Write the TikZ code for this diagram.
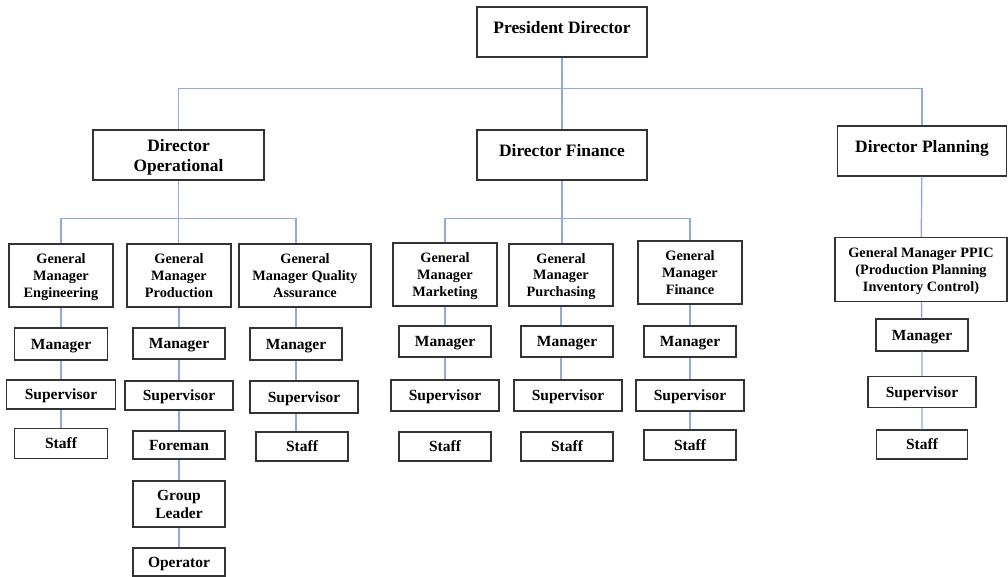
\documentclass[tikz,border=0pt]{standalone}
\usepackage{fontspec}
\setmainfont{Liberation Serif}
\definecolor{linkblue}{RGB}{143,170,220}
\tikzset{
  unit/.style={draw=black!80, line width=1.1pt, fill=white, inner sep=0pt, align=center,
    text depth=0pt, font=\bfseries\fontsize{15.5}{18}\selectfont},
  head/.style={unit, font=\bfseries\fontsize{17.4}{20}\selectfont},
  lifted/.style={text depth=10pt},
  gm/.style={unit, font=\bfseries\fontsize{14.3}{16.7}\selectfont},
  link/.style={draw=linkblue, line width=1.4pt},
}
\begin{document}
\begin{tikzpicture}[x=1pt,y=-1pt]
  \useasboundingbox (0,0) rectangle (1008,577);
  \node[head,lifted,minimum width=170pt,minimum height=50pt] (pres) at (562,32) {President Director};
  \node[head,minimum width=171pt,minimum height=50pt] (dop) at (178.5,155) {Director\\Operational};
  \node[head,lifted,minimum width=170pt,minimum height=50pt] (dfin) at (562,155) {Director Finance};
  \node[head,lifted,minimum width=169pt,minimum height=50pt] (dpla) at (922,151) {Director Planning};

  \node[gm,minimum width=104pt,minimum height=63pt] (gmeng) at (61,275.5) {General\\Manager\\Engineering};
  \node[gm,minimum width=104pt,minimum height=63pt] (gmprod) at (179,275.5) {General\\Manager\\Production};
  \node[gm,minimum width=132pt,minimum height=63pt] (gmqa) at (305,275.5) {General\\Manager Quality\\Assurance};
  \node[gm,minimum width=104pt,minimum height=63pt] (gmmkt) at (445,274.5) {General\\Manager\\Marketing};
  \node[gm,minimum width=104pt,minimum height=62pt] (gmpur) at (561,275) {General\\Manager\\Purchasing};
  \node[gm,minimum width=104pt,minimum height=63pt] (gmfin) at (690,272.5) {General\\Manager\\Finance};
  \node[gm,minimum width=172pt,minimum height=64pt] (gmppic) at (921,269.5) {General Manager PPIC\\(Production Planning\\Inventory Control)};

  \node[unit,minimum width=93pt,minimum height=32pt] (engmgr) at (61,344) {Manager};
  \node[unit,minimum width=109pt,minimum height=29pt] (engsup) at (61,394.5) {Supervisor};
  \node[unit,minimum width=93pt,minimum height=30pt] (engstaff) at (61,443.5) {Staff};

  \node[unit,minimum width=92pt,minimum height=31pt] (prodmgr) at (179,343.5) {Manager};
  \node[unit,minimum width=108pt,minimum height=29pt] (prodsup) at (179,395.5) {Supervisor};
  \node[unit,minimum width=92pt,minimum height=28pt] (foreman) at (179,445) {Foreman};
  \node[unit,minimum width=92pt,minimum height=46pt] (group) at (179,504) {Group\\Leader};
  \node[unit,minimum width=92pt,minimum height=28pt] (operator) at (179,562) {Operator};

  \node[unit,minimum width=92pt,minimum height=32pt] (qamgr) at (296,344) {Manager};
  \node[unit,minimum width=108pt,minimum height=32pt] (qasup) at (304,397) {Supervisor};
  \node[unit,minimum width=92pt,minimum height=29pt] (qastaff) at (302,446.5) {Staff};

  \node[unit,minimum width=92pt,minimum height=31pt] (mktmgr) at (445,341.5) {Manager};
  \node[unit,minimum width=108pt,minimum height=31pt] (mktsup) at (445,395.5) {Supervisor};
  \node[unit,minimum width=92pt,minimum height=29pt] (mktstaff) at (445,446.5) {Staff};

  \node[unit,minimum width=92pt,minimum height=31pt] (purmgr) at (567,341.5) {Manager};
  \node[unit,minimum width=108pt,minimum height=31pt] (pursup) at (568,395.5) {Supervisor};
  \node[unit,minimum width=92pt,minimum height=29pt] (purstaff) at (567,446.5) {Staff};

  \node[unit,minimum width=92pt,minimum height=31pt] (finmgr) at (690,341.5) {Manager};
  \node[unit,minimum width=108pt,minimum height=31pt] (finsup) at (690,395.5) {Supervisor};
  \node[unit,minimum width=92pt,minimum height=30pt] (finstaff) at (690,445) {Staff};

  \node[unit,minimum width=92pt,minimum height=32pt] (plamgr) at (922,335) {Manager};
  \node[unit,minimum width=108pt,minimum height=31pt] (plasup) at (922,392) {Supervisor};
  \node[unit,minimum width=91pt,minimum height=29pt] (plastaff) at (922,444.5) {Staff};

  \draw[link] (pres) -- (dfin);
  \draw[link] (dop.north) -- ++(0,-41) -| (dpla.north);

  \draw[link] (dop.south) -- (dop.south |- gmprod.north);
  \draw[link] (gmeng.north) -- ++(0,-25) -| (gmqa.north -| qamgr.north);
  \draw[link] (gmeng) -- (engmgr) -- (engsup) -- (engstaff);
  \draw[link] (gmprod) -- (prodmgr) -- (prodsup) -- (foreman) -- (group) -- (operator);
  \draw[link] (gmqa.south -| qamgr.north) -- (qamgr.north);
  \draw[link] (qamgr.south) -- (qamgr.south |- qasup.north);
  \draw[link] (qasup.south -| qamgr.south) -- (qastaff.north -| qamgr.south);

  \draw[link] (dfin.south) -- (dfin.south |- gmpur.north);
  \draw[link] (gmmkt.north) -- ++(0,-24) -| (gmfin.north);
  \draw[link] (gmmkt) -- (mktmgr) -- (mktsup);
  \draw[link] (gmpur.south) -- (gmpur.south |- purmgr.north);
  \draw[link] (purmgr.south -| gmpur.south) -- (pursup.north -| gmpur.south);
  \draw[link] (gmfin) -- (finmgr) -- (finsup) -- (finstaff);

  \draw[link] (dpla) -- (gmppic) -- (plamgr) -- (plasup) -- (plastaff);
\end{tikzpicture}
\end{document}
